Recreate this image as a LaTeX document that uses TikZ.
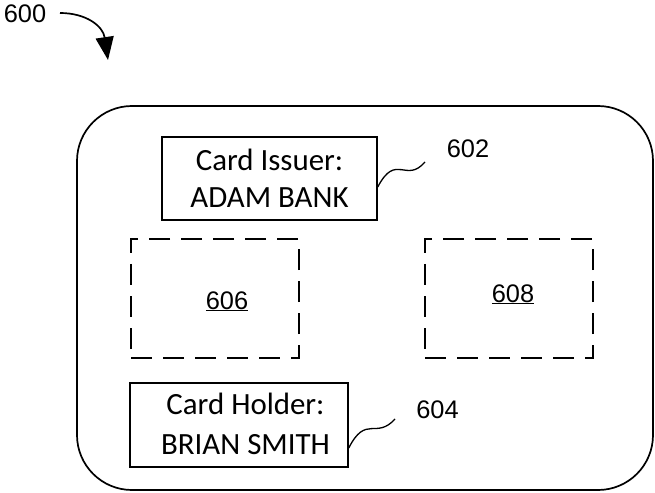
\documentclass[tikz,border=0pt]{standalone}
\usepackage{fontspec}
\setmainfont{Carlito}
\newfontfamily\arialf{Liberation Sans}
\usetikzlibrary{arrows.meta}
\begin{document}
\begin{tikzpicture}[x=1bp,y=-1bp,
  solidbox/.style={draw, line width=1.5bp, inner sep=0pt},
  dashbox/.style={draw, line width=1.5bp, inner sep=0pt, dash pattern=on 21bp off 11bp,
                  minimum width=168bp, minimum height=119bp},
  cardtext/.style={inner sep=0pt, align=center, font=\fontsize{31}{37}\selectfont},
  reflabel/.style={inner sep=0pt, anchor=base, font=\arialf\fontsize{25.5}{30}\selectfont},
  leader/.style={line width=1.3bp}
]
\useasboundingbox (0,0) rectangle (655,493);

% outer card
\node[draw, rounded corners=55bp, line width=1.7bp, inner sep=0pt,
      minimum width=576bp, minimum height=384bp] (card) at (365,298) {};

% 600 reference arrow
\node[reflabel] (l600) at (25,23) {600};
\coordinate (a600s) at (60,13);
\coordinate (a600e) at (108,60);
\draw[line width=1.7bp, -{Triangle[length=23bp,width=18bp]}]
  (a600s) .. controls (86,13) and (103,26) .. (a600e);

% card issuer box
\node[solidbox, minimum width=215bp, minimum height=83bp] (issuer) at (269.5,178.5) {};
\node[cardtext] (issuertext) at (issuer.center) {Card Issuer:\\ADAM BANK};
\node[reflabel] (l602) at (468,158) {602};
\coordinate (q602) at (425,162);
\draw[leader] ([yshift=-8.5bp]issuer.east) .. controls (396,152) and (406,184) .. (q602);

% dashed areas
\node[dashbox] (d606) at (215,298.5) {};
\node[reflabel] (l606) at (227,309) {\underline{606}};
\node[dashbox] (d608) at (509,298.5) {};
\node[reflabel] (l608) at (513,302) {\underline{608}};

% card holder box
\node[solidbox, minimum width=218bp, minimum height=84bp] (holder) at (239,425) {};
\node[cardtext, font=\fontsize{31}{40}\selectfont] (holdertext) at (245.5,424) {Card Holder:\\BRIAN SMITH};
\node[reflabel] (l604) at (437.5,418) {604};
\coordinate (q604) at (395,419);
\draw[leader] ([yshift=-23bp]holder.east) .. controls (366,414) and (376,440) .. (q604);
\end{tikzpicture}
\end{document}
